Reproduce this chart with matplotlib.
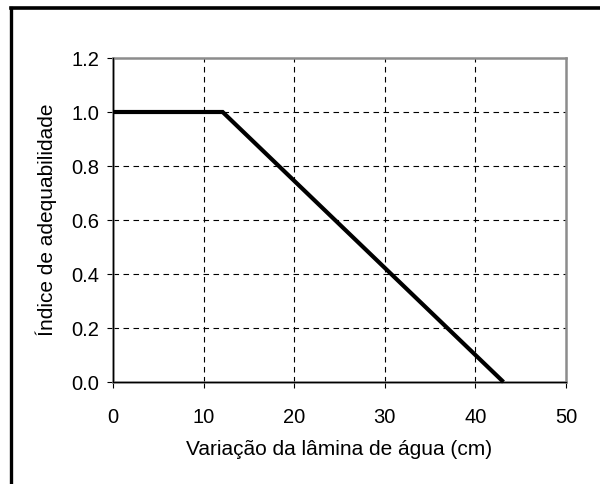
import matplotlib
matplotlib.use("Agg")
import matplotlib.pyplot as plt
from matplotlib.lines import Line2D

plt.rcParams['font.family'] = ['Liberation Sans', 'DejaVu Sans']

x_vals = [0, 12.1, 43.1]
y_vals = [1.0, 1.0, 0.0]
x_ticks = [0, 10, 20, 30, 40, 50]
y_ticks = [0.0, 0.2, 0.4, 0.6, 0.8, 1.0, 1.2]

W, H = 600, 484
fig = plt.figure(figsize=(6, 4.84), dpi=100)
ax = fig.add_axes([113/W, 1 - 382/H, 453/W, 324/H])

ax.set_xlim(0, 50)
ax.set_ylim(0, 1.2)
ax.set_xticks(x_ticks)
ax.set_yticks(y_ticks)
ax.set_xticklabels([str(t) for t in x_ticks])
ax.set_yticklabels([f"{t:.1f}" for t in y_ticks])

for v in x_ticks[1:-1]:
    ax.axvline(v, color='black', lw=0.8, ls=(0, (5, 4)), zorder=1)
for v in y_ticks[1:-1]:
    ax.axhline(v, color='black', lw=0.8, ls=(0, (5, 4)), zorder=1)

for s in ax.spines.values():
    s.set_color('#8c8c8c')
    s.set_linewidth(1.8)

ax.axvline(0, color='black', lw=0.9, zorder=3, clip_on=False)
ax.axhline(0, color='black', lw=0.9, zorder=3, clip_on=False)

ax.plot(x_vals, y_vals, color='black', lw=3.0, zorder=4, clip_on=False,
        solid_capstyle='butt', solid_joinstyle='miter')

ax.tick_params(direction='out', length=4, width=0.8, color='black',
               labelsize=14.5)
ax.tick_params(axis='x', pad=15)
ax.tick_params(axis='y', pad=6)

ax.set_xlabel('Variação da lâmina de água (cm)', fontsize=15, labelpad=9)
ax.set_ylabel('Índice de adequabilidade', fontsize=15, labelpad=10)

# outer frame (top and left edges)
fig.add_artist(Line2D([10.5/W, 10.5/W], [0, 1 - 7.5/H], color='black', lw=2.4,
                      transform=fig.transFigure, solid_capstyle='projecting'))
fig.add_artist(Line2D([10.5/W, 1], [1 - 7.5/H, 1 - 7.5/H], color='black', lw=2.6,
                      transform=fig.transFigure, solid_capstyle='projecting'))

fig.savefig('out.png', dpi=100)
